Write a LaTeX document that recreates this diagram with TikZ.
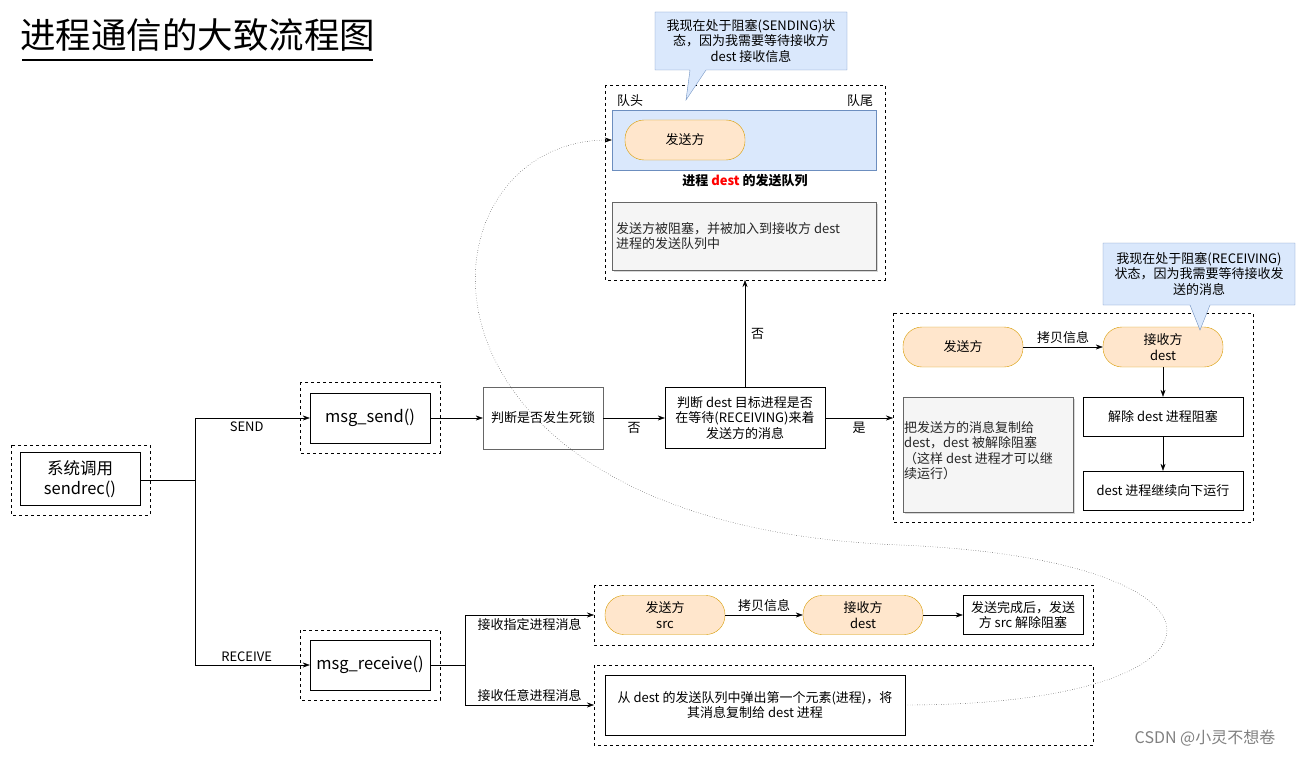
\documentclass[tikz,border=0pt]{standalone}
\usepackage{fontspec}
\setmainfont{Noto Sans CJK SC}
\usetikzlibrary{arrows.meta,shadows}
\definecolor{bl}{HTML}{DAE8FC}\definecolor{bld}{HTML}{6C8EBF}
\definecolor{or}{HTML}{FFE6CC}\definecolor{ord}{HTML}{D79B00}
\definecolor{gr}{HTML}{F5F5F5}\definecolor{grd}{HTML}{666666}
\begin{document}
\begin{tikzpicture}[x=1pt,y=-1pt,
 every node/.style={font=\fontsize{13}{15.5}\selectfont,align=center,inner sep=0pt},
 dbox/.style={draw,dashed,thin},
 box/.style={draw,thin,fill=white},
 big/.style={font=\fontsize{16.5}{20}\selectfont},
 orn/.style={draw=ord,fill=or,rounded corners=19pt},
 gbox/.style={draw=grd,fill=gr,drop shadow={shadow xshift=2pt,shadow yshift=-2pt,fill=gray!60}},
 call/.style={draw=bld,fill=bl},
 arr/.style={-{Stealth[length=7pt,width=5pt]}},
 lab/.style={font=\fontsize{13}{15.5}\selectfont}]
\useasboundingbox (0,0) rectangle (1306,757);
\node[anchor=west,font=\fontsize{35.5}{40}\selectfont] (title) at (20,35) {进程通信的大致流程图};
\draw[line width=1.8pt] (22,60) -- (373,60);
% system call
\draw[dbox] (11,445) rectangle (150,515);
\node[box,big,minimum width=120pt,minimum height=53pt] (sys) at (80,479) {系统调用\\sendrec()};
\coordinate (j0) at (140,480);
\coordinate (j1) at (195,480);
\draw[solid] (j0) -- (j1);
\draw (195,418) -- (195,665);
% msg_send
\draw[dbox] (300,382) rectangle (440,453);
\node[box,big,minimum width=120pt,minimum height=50pt] (ms) at (370,418) {msg\_send()};
\draw[arr] (195,418) -- (ms.west) node[pos=0.45,below=4pt,lab]{SEND};
\node[box,draw=grd,minimum width=120pt,minimum height=62pt] (dl) at (543,418) {判断是否发生死锁};
\draw[arr] (ms.east) -- (dl.west);
\node[box,minimum width=160pt,minimum height=61pt] (jd) at (745,418) {判断 dest 目标进程是否\\在等待(RECEIVING)来着\\发送方的消息};
\draw[arr] (dl.east) -- (jd.west) node[midway,below=4pt,lab]{否};
% top box
\draw[dbox] (605,85) rectangle (885,280);
\node (qh) at (630,101) {队头};
\node (qt) at (860,101) {队尾};
\node[call,minimum width=264pt,minimum height=60pt] (queue) at (744,140) {};
\node[orn,minimum width=120pt,minimum height=40pt] (s1) at (685,140) {发送方};
\node[font=\fontsize{13}{15.5}\selectfont\bfseries] (qlab) at (745,181) {进程 \textcolor{red}{dest} 的发送队列};
\node[gbox,minimum width=264pt,minimum height=68pt] (g1) at (744,236) {};
\node[anchor=west,align=left,text=black!85] (g1t) at (616,236) {发送方被阻塞，并被加入到接收方 dest\\进程的发送队列中};
\draw[arr] (jd.north) -- (745,280) node[midway,right=6pt,lab]{否};
\draw[call] (655,12) -- (847,12) -- (847,70) -- (706,70) -- (686,100) -- (690,70) -- (655,70) -- cycle;
\node (c1) at (751,41) {我现在处于阻塞(SENDING)状\\态，因为我需要等待接收方\\dest 接收信息};
% right box
\draw[dbox] (893,313) rectangle (1253,522);
\draw[arr] (jd.east) -- (893,418) node[midway,below=4pt,lab]{是};
\node[orn,minimum width=120pt,minimum height=40pt] (s2) at (963,347) {发送方};
\node[orn,minimum width=120pt,minimum height=40pt] (r2) at (1163,347) {接收方\\dest};
\draw[arr] (s2.east) -- (r2.west) node[midway,above=3pt,lab]{拷贝信息};
\draw[call] (1103,243) -- (1295,243) -- (1295,305) -- (1210,305) -- (1200,330) -- (1190,305) -- (1103,305) -- cycle;
\node (c2) at (1199,274) {我现在处于阻塞(RECEIVING)\\状态，因为我需要等待接收发\\送的消息};
\node[box,minimum width=160pt,minimum height=39pt] (u1) at (1163,416.5) {解除 dest 进程阻塞};
\node[box,minimum width=160pt,minimum height=39pt] (u2) at (1163,490.5) {dest 进程继续向下运行};
\draw[arr] (r2.south) -- (u1.north);
\draw[arr] (u1.south) -- (u2.north);
\node[gbox,minimum width=170pt,minimum height=115pt] (g2) at (988,454.5) {};
\node[anchor=north west,align=left,text=black!85] (g2t) at (904,421) {把发送方的消息复制给\\dest，dest 被解除阻塞\\（这样 dest 进程才可以继\\续运行）};
% receive
\draw[dbox] (300,630) rectangle (440,700);
\node[box,big,minimum width=120pt,minimum height=50pt] (mr) at (370,665) {msg\_receive()};
\draw[arr] (195,665) -- (mr.west) node[pos=0.45,above=3pt,lab]{RECEIVE};
\draw (mr.east) -- (465,665);
\draw (465,615) -- (465,705);
\draw[dbox] (594,585) rectangle (1093,645);
\draw[dbox] (594,665) rectangle (1093,745);
\coordinate (b1) at (594,615);
\coordinate (b2) at (594,705);
\draw[arr] (465,615) -- (b1) node[midway,below=3pt,lab]{接收指定进程消息};
\draw[arr] (465,705) -- (b2) node[midway,above=3pt,lab]{接收任意进程消息};
\node[orn,minimum width=120pt,minimum height=39pt] (s3) at (665,615) {发送方\\src};
\node[orn,minimum width=120pt,minimum height=39pt] (r3) at (863,615) {接收方\\dest};
\draw[arr] (s3.east) -- (r3.west) node[midway,above=3pt,lab]{拷贝信息};
\node[box,minimum width=120pt,minimum height=39pt] (f3) at (1023,615) {发送完成后，发送\\方 src 解除阻塞};
\draw[arr] (r3.east) -- (f3.west);
\node[box,minimum width=300pt,minimum height=60pt] (pop) at (755,705) {从 dest 的发送队列中弹出第一个元素(进程)，将\\其消息复制给 dest 进程};
\draw[dotted,arr,thin] (pop.east) .. controls (1250,705) and (1260,560) .. (900,545)
  .. controls (380,525) and (410,140) .. (queue.west);
\node[text=gray,font=\fontsize{16}{19}\selectfont] (wm) at (1205,738) {CSDN @小灵不想卷};
\end{tikzpicture}
\end{document}
